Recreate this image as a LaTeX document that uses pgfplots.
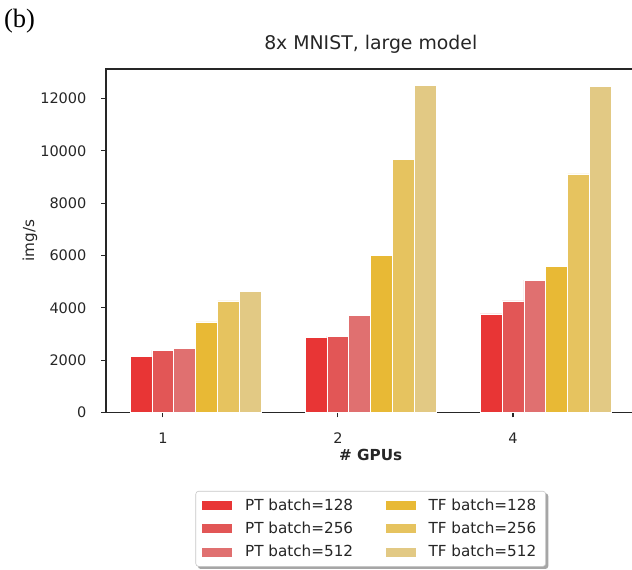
\documentclass[border=0pt]{standalone}
\usepackage{fontspec}
\setmainfont{DejaVu Sans}
\newfontfamily\timesfont{Liberation Serif}
\usepackage{pgfplots}
\pgfplotsset{compat=1.18}
\usetikzlibrary{backgrounds}
\definecolor{pta}{RGB}{232,53,53}
\definecolor{ptb}{RGB}{226,86,86}
\definecolor{ptc}{RGB}{224,112,112}
\definecolor{tfa}{RGB}{232,185,53}
\definecolor{tfb}{RGB}{230,195,95}
\definecolor{tfc}{RGB}{226,201,132}
\begin{document}
\begin{tikzpicture}
\begin{axis}[
  at={(0pt,0pt)}, anchor=south west,
  width=365.2pt, height=236.9pt, scale only axis,
  xmin=-0.325, xmax=2.7, ymin=0, ymax=13125,
  axis line style={black!85, line width=0.8pt},
  xtick={0,1,2}, xticklabels={1,2,4},
  ytick={0,2000,4000,6000,8000,10000,12000},
  xtick pos=bottom, ytick pos=left,
  tick align=outside, major tick length=3.4pt,
  tick style={black!85, line width=0.8pt},
  scaled y ticks=false,
  /pgf/number format/.cd, 1000 sep={}, assume math mode=true,
  /pgfplots/.cd,
  yticklabel style={anchor=east, inner sep=0pt, xshift=-9.9pt, font=\fontsize{10}{12}\selectfont, text=black!85},
  xticklabel style={anchor=base, inner sep=0pt, yshift=-17.8pt, font=\fontsize{10}{12}\selectfont, text=black!85},
  title={8x MNIST, large model},
  title style={at={(axis description cs:0.5,1)}, anchor=base, inner sep=0pt, yshift=7.4pt, font=\fontsize{13}{15}\selectfont, text=black!85},
  xlabel={\# GPUs},
  xlabel style={at={(axis description cs:0.5,0)}, anchor=base, inner sep=0pt, yshift=-32.8pt, font=\fontsize{10.5}{12}\selectfont\bfseries, text=black!85},
  ylabel={img/s},
  ylabel style={at={(axis description cs:-0.1435,0.5)}, anchor=center, rotate=0, inner sep=0pt, font=\fontsize{10.5}{12}\selectfont, text=black!85},
  ybar, bar width=0.125,
  every axis plot/.append style={draw=white, line width=0.5pt},
  legend columns=2,
  legend cell align=left,
  legend image code/.code={\fill[#1, draw=none, sharp corners] (0pt,-3.1pt) rectangle (20.7pt,3.1pt);},
  legend style={name=lgd, at={(axis description cs:0.5,0)}, anchor=north, yshift=-54.1pt,
    draw=black!22, rounded corners=2pt, fill=white,
    font=\fontsize{10.5}{12}\selectfont, text=black!85,
    inner xsep=4.5pt, inner ysep=3pt, row sep=2.7pt,
    /tikz/column 1/.style={column sep=6.8pt},
    /tikz/column 2/.style={column sep=20.5pt},
    /tikz/column 3/.style={column sep=6.8pt}},
]
\addplot[fill=pta, bar shift=-0.125] coordinates {(0,2156) (1,2872) (2,3765)};
\addlegendentry{PT batch=128}
\addplot[fill=tfa, bar shift=0.25] coordinates {(0,3459) (1,6013) (2,5591)};
\addlegendentry{TF batch=128}
\addplot[fill=ptb, bar shift=0] coordinates {(0,2374) (1,2922) (2,4263)};
\addlegendentry{PT batch=256}
\addplot[fill=tfb, bar shift=0.375] coordinates {(0,4263) (1,9663) (2,9115)};
\addlegendentry{TF batch=256}
\addplot[fill=ptc, bar shift=0.125] coordinates {(0,2436) (1,3715) (2,5055)};
\addlegendentry{PT batch=512}
\addplot[fill=tfc, bar shift=0.5] coordinates {(0,4634) (1,12509) (2,12447)};
\addlegendentry{TF batch=512}
\end{axis}
\begin{scope}[on background layer]
\fill[black, opacity=0.35, rounded corners=2pt] ([xshift=1.6pt,yshift=-1.6pt]lgd.south west) rectangle ([xshift=1.6pt,yshift=-1.6pt]lgd.north east);
\end{scope}
\node[anchor=base west, inner sep=0pt, font=\timesfont\fontsize{18.3}{20}\selectfont] at (-70.5pt,265.2pt) {(b)};
\pgfresetboundingbox
\useasboundingbox (-73.1pt,-108.6pt) rectangle (362.8pt,284.5pt);
\end{tikzpicture}
\end{document}
